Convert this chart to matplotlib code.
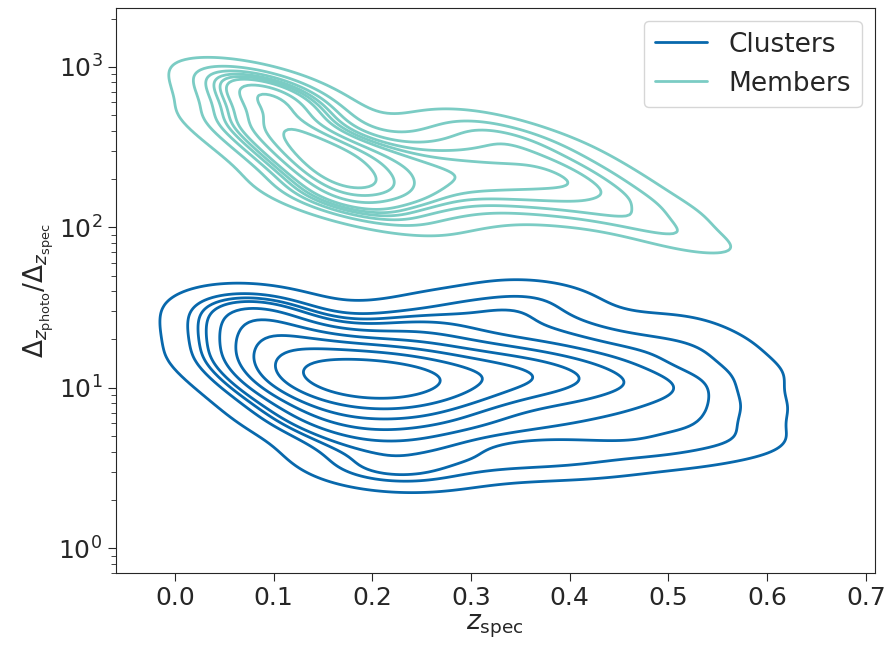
import numpy as np
import matplotlib
matplotlib.use("Agg")
import matplotlib.pyplot as plt
import seaborn as sns
from matplotlib.lines import Line2D

# spectroscopic redshift columns and the error ratios read at each of them
z_clusters = [0.045, 0.07, 0.095, 0.12, 0.15, 0.18, 0.21, 0.24, 0.27, 0.31,
              0.35, 0.39, 0.43, 0.47, 0.51, 0.55, 0.58]
ratio_clusters = [
    [15, 22, 30],
    [11, 16, 21, 28, 36],
    [8, 12, 16, 20, 26, 34],
    [6, 9, 11, 13, 16, 20, 27],
    [4, 6, 7.5, 9, 10.5, 12, 13.5, 16, 21],
    [3.1, 5, 6.5, 8.5, 10, 11, 12, 13, 15, 19],
    [2.9, 4.6, 6.5, 8, 9.5, 10.5, 11.5, 12.5, 14, 18, 26],
    [2.9, 4.6, 6.5, 8, 9.5, 11, 12.5, 14.5, 18, 25],
    [3.1, 5, 6.5, 8.5, 10, 11.5, 13, 16, 22, 32],
    [3.4, 5.5, 7.5, 9, 11, 12.5, 15, 20, 32],
    [3.4, 5.5, 8, 10.5, 12, 14, 18, 28, 40],
    [3.5, 5.5, 8, 10.5, 12.5, 16, 24, 36],
    [3.5, 5.5, 8, 11, 14, 22],
    [4, 6, 9, 12, 18],
    [4, 6.5, 10, 16, 26],
    [4.5, 7, 11, 19],
    [5, 8, 13],
]

z_members = [0.06, 0.075, 0.09, 0.105, 0.12, 0.135, 0.15, 0.165, 0.18, 0.20, 0.23,
             0.26, 0.29, 0.32, 0.35, 0.38, 0.41, 0.44, 0.47, 0.50, 0.53]
ratio_members = [
    [450, 620, 800],
    [380, 500, 640, 760, 880],
    [320, 420, 520, 640, 750, 850],
    [280, 370, 460, 560, 650, 740],
    [230, 300, 380, 460, 540, 640],
    [170, 220, 270, 320, 380, 450, 530],
    [150, 190, 230, 270, 320, 380],
    [140, 170, 200, 230, 270, 320],
    [130, 160, 185, 210, 250, 300],
    [120, 150, 175, 200, 240, 300],
    [110, 150, 180, 210, 260, 330],
    [120, 160, 200, 240, 300, 380],
    [130, 170, 210, 260, 340, 420],
    [140, 180, 220, 280, 380, 450],
    [140, 180, 220, 280, 360],
    [130, 170, 210, 260, 330],
    [130, 170, 210, 260],
    [120, 160, 200],
    [110, 150],
    [90, 120],
    [80],
]


def flatten(zs, cols):
    x = [z for z, col in zip(zs, cols) for _ in col]
    y = [v for col in cols for v in col]
    return x, y


xc, yc = flatten(z_clusters, ratio_clusters)
xm, ym = flatten(z_members, ratio_members)

sns.set_style("ticks")
plt.rcParams['font.family'] = ['DejaVu Sans']

fig, ax = plt.subplots(figsize=(8.89, 6.49), dpi=100)
fig.subplots_adjust(left=0.130, right=0.984, top=0.988, bottom=0.117)

sns.kdeplot(x=xc, y=yc, log_scale=(False, True), ax=ax,
            color="#0868ac", linewidths=2, bw_adjust=0.75)
sns.kdeplot(x=xm, y=ym, log_scale=(False, True), ax=ax,
            color="#7bccc4", linewidths=2, bw_adjust=0.8)

ax.set_xlim(-0.06, 0.709)
ax.set_ylim(0.70, 2335)
ax.set_xticks([0.0, 0.1, 0.2, 0.3, 0.4, 0.5, 0.6, 0.7])
ax.tick_params(axis='both', which='major', labelsize=18, length=6)
ax.tick_params(axis='both', which='minor', length=3.5)
ax.set_xlabel(r'$z_{\rm spec}$', fontsize=19, labelpad=2)
ax.set_ylabel(r'$\Delta_{z_{\rm photo}}/\Delta_{z_{\rm spec}}$', fontsize=19, labelpad=2)

handles = [Line2D([], [], color="#0868ac", lw=2),
           Line2D([], [], color="#7bccc4", lw=2)]
ax.legend(handles, ["Clusters", "Members"], loc="upper right", fontsize=19)

fig.savefig("out.png")
